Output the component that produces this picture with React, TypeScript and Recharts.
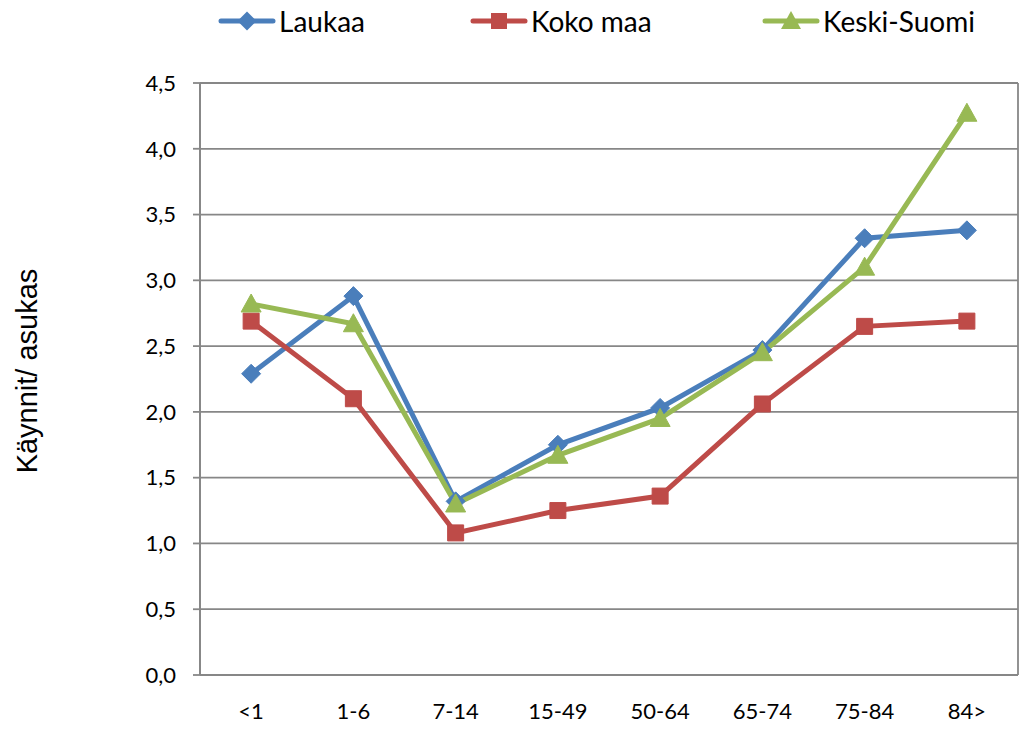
import React from 'react';
import { LineChart, Line, XAxis, YAxis, CartesianGrid, Legend } from 'recharts';

const categories = ['<1', '1-6', '7-14', '15-49', '50-64', '65-74', '75-84', '84>'];
const laukaa = [2.29, 2.88, 1.32, 1.75, 2.03, 2.47, 3.32, 3.38];
const kokoMaa = [2.69, 2.1, 1.08, 1.25, 1.36, 2.06, 2.65, 2.69];
const keskiSuomi = [2.82, 2.67, 1.3, 1.67, 1.95, 2.45, 3.1, 4.27];
const yTicks = [0, 0.5, 1, 1.5, 2, 2.5, 3, 3.5, 4, 4.5];
const seriesNames = ['Laukaa', 'Koko maa', 'Keski-Suomi'];
const yTitle = 'Käynnit/ asukas';

const BLUE = '#4A7EBB';
const RED = '#BE4B48';
const GREEN = '#98B954';
const GRID = '#878787';
const FONT = 'Lato, "Open Sans", sans-serif';

const data = categories.map((c, i) => ({
  x: i + 0.5,
  name: c,
  laukaa: laukaa[i],
  kokoMaa: kokoMaa[i],
  keskiSuomi: keskiSuomi[i],
}));

type Shape = 'diamond' | 'square' | 'triangle';

const markerPath = (shape: Shape, cx: number, cy: number) => {
  if (shape === 'diamond') {
    const r = 9.5;
    return `M${cx},${cy - r}L${cx + r},${cy}L${cx},${cy + r}L${cx - r},${cy}Z`;
  }
  if (shape === 'square') {
    const r = 8;
    return `M${cx - r},${cy - r}H${cx + r}V${cy + r}H${cx - r}Z`;
  }
  const w = 10;
  return `M${cx},${cy - 10}L${cx + w},${cy + 8}L${cx - w},${cy + 8}Z`;
};

const makeDot = (shape: Shape, color: string) => (p: any) => {
  if (p.cx == null || p.cy == null) return <g key={`e-${p.index}`} />;
  return <path key={`${shape}-${p.index}`} d={markerPath(shape, p.cx, p.cy)} fill={color} stroke={color} strokeWidth={1} />;
};

const series: { key: string; name: string; color: string; shape: Shape; itemWidth: number }[] = [
  { key: 'laukaa', name: seriesNames[0], color: BLUE, shape: 'diamond', itemWidth: 252 },
  { key: 'kokoMaa', name: seriesNames[1], color: RED, shape: 'square', itemWidth: 292 },
  { key: 'keskiSuomi', name: seriesNames[2], color: GREEN, shape: 'triangle', itemWidth: 260 },
];

const LegendContent = () => (
  <div style={{ display: 'flex', paddingLeft: 210, alignItems: 'center', height: 26 }}>
    {series.map((s) => (
      <div key={s.key} style={{ width: s.itemWidth, display: 'flex', alignItems: 'center' }}>
        <svg width={58} height={26} style={{ display: 'block' }}>
          <line x1={3} y1={13} x2={55} y2={13} stroke={s.color} strokeWidth={5} strokeLinecap="round" />
          <path d={markerPath(s.shape, 29, 13)} fill={s.color} />
        </svg>
        <span style={{ fontFamily: FONT, fontSize: 28, color: '#000', marginLeft: 3, lineHeight: '26px' }}>{s.name}</span>
      </div>
    ))}
  </div>
);

const YTitle = (props: any) => {
  const vb = props.viewBox || {};
  const cx = (vb.x || 0) + 19;
  const cy = (vb.y || 0) + (vb.height || 0) / 2 - 8;
  return (
    <text x={cx} y={cy} transform={`rotate(-90 ${cx} ${cy})`} textAnchor="middle" dominantBaseline="central"
      style={{ fontFamily: '"Liberation Sans", Arial, sans-serif', fontSize: 29, fill: '#000' }}>
      {yTitle}
    </text>
  );
};

export default function App() {
  return (
    <div style={{ width: 1021, height: 721, position: 'relative' }}>
      <LineChart width={1021} height={721} data={data} margin={{ top: 75, right: 11, bottom: 0, left: 0 }}>
        <CartesianGrid xAxisId="g" stroke={GRID} strokeWidth={1.8} />
        <XAxis xAxisId="g" dataKey="x" type="number" domain={[0, categories.length]} allowDataOverflow
          ticks={categories.map((_, i) => i).concat([categories.length])} tick={false} tickSize={7}
          tickLine={{ stroke: GRID, strokeWidth: 1.8 }} axisLine={{ stroke: GRID, strokeWidth: 1.8 }} height={0} />
        <XAxis xAxisId="l" dataKey="x" type="number" domain={[0, categories.length]} allowDataOverflow
          ticks={categories.map((_, i) => i + 0.5)} tickFormatter={(v: number) => categories[Math.floor(v)]}
          axisLine={false} tickLine={false} tickSize={0} tickMargin={28} height={54}
          tick={{ fill: '#000', fontSize: 22, fontFamily: FONT }} interval={0} />
        <YAxis type="number" domain={[0, 4.5]} ticks={yTicks} width={192} tickSize={7} tickMargin={17}
          tickFormatter={(v: number) => v.toFixed(1).replace('.', ',')}
          tick={{ fill: '#000', fontSize: 22, fontFamily: FONT }}
          tickLine={{ stroke: GRID, strokeWidth: 1.8 }} axisLine={{ stroke: GRID, strokeWidth: 1.8 }}
          label={<YTitle />} interval={0} />
        <Legend verticalAlign="middle" align="center" layout="horizontal"
          wrapperStyle={{ top: 0, left: 0, width: 1021, height: 26 }} content={<LegendContent />} />
        {series.map((s) => (
          <Line key={s.key} xAxisId="g" type="linear" dataKey={s.key} name={s.name} stroke={s.color} strokeWidth={5}
            dot={makeDot(s.shape, s.color)} activeDot={false} isAnimationActive={false} />
        ))}
      </LineChart>
    </div>
  );
}
